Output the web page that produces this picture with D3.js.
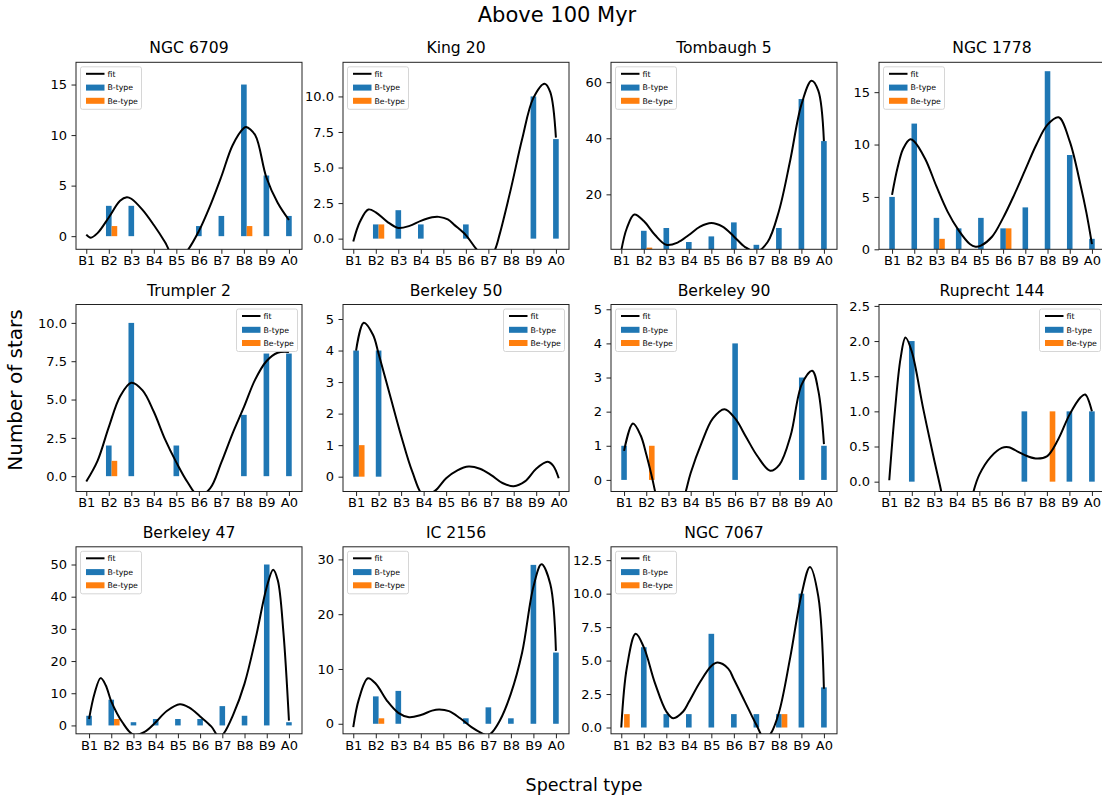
<!DOCTYPE html>
<html><head><meta charset="utf-8">
<script src="https://cdn.jsdelivr.net/npm/d3@7"></script>
<style>
body{margin:0;background:#fff}
text{font-family:"DejaVu Sans",sans-serif;fill:#000}
</style>
</head><body>
<svg id="chart" width="1102" height="801"></svg>
<script>
// ---------- data ----------
const spectralTypes = ["B1","B2","B3","B4","B5","B6","B7","B8","B9","A0"];
const clusterNames = ["NGC 6709","King 20","Tombaugh 5","NGC 1778","Trumpler 2","Berkeley 50",
  "Berkeley 90","Ruprecht 144","Berkeley 47","IC 2156","NGC 7067"];

const bTypeNGC6709   = [0,3,3,0,0,1,2,15,6,2];
const bTypeKing20    = [0,1,2,1,0,1,0,0,10,7];
const bTypeTombaugh5 = [0,7,8,3,5,10,2,8,54,39];
const bTypeNGC1778   = [5,12,3,2,3,2,4,17,9,1];
const bTypeTrumpler2 = [0,2,10,0,2,0,0,4,8,8];
const bTypeBerkeley50= [4,4,0,0,0,0,0,0,0,0];
const bTypeBerkeley90= [1,0,0,0,0,4,0,0,3,1];
const bTypeRuprecht144=[0,2,0,0,0,0,1,0,1,1];
const bTypeBerkeley47= [3,8,1,2,2,2,6,3,50,1];
const bTypeIC2156    = [0,5,6,0,0,1,3,1,29,13];
const bTypeNGC7067   = [0,6,1,1,7,1,1,1,10,3];

const beTypeNGC6709   = [0,1,0,0,0,0,0,1,0,0];
const beTypeKing20    = [0,1,0,0,0,0,0,0,0,0];
const beTypeTombaugh5 = [0,1,0,0,0,0,0,0,0,0];
const beTypeNGC1778   = [0,0,1,0,0,2,0,0,0,0];
const beTypeTrumpler2 = [0,1,0,0,0,0,0,0,0,0];
const beTypeBerkeley50= [1,0,0,0,0,0,0,0,0,0];
const beTypeBerkeley90= [0,1,0,0,0,0,0,0,0,0];
const beTypeRuprecht144=[0,0,0,0,0,0,0,1,0,0];
const beTypeBerkeley47= [0,2,0,0,0,0,0,0,0,0];
const beTypeIC2156    = [0,1,0,0,0,0,0,0,0,0];
const beTypeNGC7067   = [1,0,0,0,0,0,0,1,0,0];

// fit curves: [spectral index, stars]
const fitNGC6709 = [[0,0.15],[0.2,-0.15],[0.5,0.3],[1,1.85],[1.5,3.5],[1.8,3.85],[2,3.7],[2.5,2.6],[3,1.1],
  [3.5,-0.6],[4,-2.5],[4.5,-1.4],[5,0.5],[5.5,3],[6,5.9],[6.5,9],[7,10.7],[7.1,10.8],[7.5,10],[8,5.8],[8.5,3.3],[9,1.6]];
const fitKing20 = [[0,-0.2],[0.3,1.2],[0.67,2.05],[1,1.85],[1.5,1.2],[2,0.75],[2.5,0.9],[3,1.25],[3.5,1.5],[3.8,1.53],
  [4.2,1.35],[4.5,0.95],[5,0.25],[5.5,-0.8],[6,-1.5],[6.3,-0.75],[6.5,0.3],[7,3.5],[7.5,7],[8,9.9],[8.5,10.9],[8.75,10.3],[9,7.1]];
const fitTombaugh5 = [[0,0],[0.25,8],[0.58,12.8],[1,10.5],[1.5,5.5],[2,2],[2.5,2.8],[3,5.5],[3.5,8.5],[4,9.8],[4.5,8.5],
  [5,5],[5.5,1.2],[6,-0.5],[6.5,3],[7,14],[7.5,32],[8,52],[8.45,60.5],[8.75,57],[9,39]];
const fitNGC1778 = [[0,5.2],[0.25,7.8],[0.5,9.6],[0.82,10.5],[1,10.3],[1.5,8.6],[2,6],[2.5,3.6],[3,1.8],[3.5,0.5],[3.76,0.25],
  [4,0.35],[4.5,1.2],[5,3],[5.5,5.2],[6,7.6],[6.5,10],[7,11.9],[7.5,12.6],[8,10.3],[8.5,6],[8.75,3.5],[9,0.5]];
const fitTrumpler2 = [[0,-0.35],[0.5,1],[1,3.2],[1.5,5.2],[2,6.1],[2.5,5.6],[3,4.2],[3.5,2.4],[4,0.9],[4.5,-0.4],[5,-1.3],
  [5.5,-0.8],[6,0.9],[6.5,2.8],[7,4.5],[7.5,6.3],[8,7.5],[8.5,8.05],[9,8.1]];
const fitBerkeley50 = [[0,4],[0.34,4.88],[0.75,4.5],[1,3.9],[1.5,2.6],[2,1.3],[2.5,0.15],[3,-0.6],[3.5,-0.45],[4,-0.05],
  [4.5,0.2],[5,0.32],[5.5,0.25],[6,0.05],[6.5,-0.2],[7,-0.3],[7.5,-0.15],[8,0.25],[8.5,0.47],[8.75,0.35],[9,-0.05]];
const fitBerkeley90 = [[0,0.85],[0.4,1.65],[0.75,1.3],[1,0.75],[1.25,0.1],[1.5,-0.6],[2,-1.5],[2.5,-1],[2.78,-0.34],[3,0.2],
  [3.5,1.1],[4,1.8],[4.52,2.07],[5,1.8],[5.5,1.25],[6,0.7],[6.58,0.27],[7,0.45],[7.5,1.3],[8,2.8],[8.47,3.2],[8.75,2.6],[9,1.05]];
const fitRuprecht144 = [[0,0.02],[0.25,1],[0.5,1.75],[0.72,2.05],[1,1.85],[1.5,1.05],[2,0.3],[2.25,-0.05],[2.5,-0.4],[3,-0.8],
  [3.5,-0.5],[3.74,-0.14],[4,0.1],[4.5,0.35],[5,0.48],[5.3,0.49],[5.75,0.42],[6,0.38],[6.5,0.33],[7,0.36],[7.5,0.6],[8,0.95],
  [8.5,1.2],[8.7,1.24],[9,1]];
const fitBerkeley47 = [[0,2],[0.25,10],[0.52,14.7],[0.75,12.5],[1,7.5],[1.5,1],[2,-2.9],[2.5,-2],[3,1],[3.5,4.5],[4.09,6.6],
  [4.5,5.6],[5,2.8],[5.5,-0.3],[5.85,-3.5],[6.05,-2.6],[6.5,3.5],[7,13],[7.5,27],[8,43],[8.29,48.4],[8.5,45],[8.75,29],[9,1.5]];
const fitIC2156 = [[0,-0.6],[0.25,4.5],[0.65,8.3],[1,7.3],[1.5,4.2],[2,2],[2.48,1.2],[3,1.6],[3.5,2.4],[3.82,2.6],[4.25,2.3],
  [4.75,1],[5.25,-0.6],[5.76,-1.83],[5.93,-2.1],[6.1,-1.83],[6.5,0.5],[7,5.5],[7.5,13],[8,25],[8.36,29.1],[8.75,25.5],[9,13.3]];
const fitNGC7067 = [[0,0],[0.25,4.5],[0.64,7],[1,6],[1.5,3.3],[2,1.2],[2.3,0.7],[2.75,1.2],[3,1.9],[3.5,3.4],[4,4.6],[4.28,4.85],
  [4.75,4.4],[5,3.6],[5.5,1.9],[6,0.2],[6.35,-0.8],[6.63,-0.47],[7,1.1],[7.5,5.2],[8,9.9],[8.38,12],[8.75,9.8],[9,2.9]];

const yLimits = [[-1.3,17.2],[-0.75,12.4],[0.4,67.1],[0,17.85],[-1.0,11.2],[-0.47,5.46],
  [-0.34,5.14],[-0.14,2.52],[-2.6,55.5],[-1.83,32.3],[-0.47,13.5]];
const yTicks = [[0,5,10,15],[0,2.5,5,7.5,10],[20,40,60],[0,5,10,15],[0,2.5,5,7.5,10],[0,1,2,3,4,5],
  [0,1,2,3,4,5],[0,0.5,1,1.5,2,2.5],[0,10,20,30,40,50],[0,10,20,30],[0,2.5,5,7.5,10,12.5]];
const yTickDecimals = [0,1,0,0,1,0,0,1,0,0,1];
const legendSide = ["left","left","left","left","right","right","left","right","left","left","left"];
const legendLabels = ["fit","B-type","Be-type"];

const bTypeCounts = [bTypeNGC6709,bTypeKing20,bTypeTombaugh5,bTypeNGC1778,bTypeTrumpler2,bTypeBerkeley50,
  bTypeBerkeley90,bTypeRuprecht144,bTypeBerkeley47,bTypeIC2156,bTypeNGC7067];
const beTypeCounts = [beTypeNGC6709,beTypeKing20,beTypeTombaugh5,beTypeNGC1778,beTypeTrumpler2,beTypeBerkeley50,
  beTypeBerkeley90,beTypeRuprecht144,beTypeBerkeley47,beTypeIC2156,beTypeNGC7067];
const fitCurves = [fitNGC6709,fitKing20,fitTombaugh5,fitNGC1778,fitTrumpler2,fitBerkeley50,
  fitBerkeley90,fitRuprecht144,fitBerkeley47,fitIC2156,fitNGC7067];

// ---------- layout ----------
const colLeft = [76,343,611,879];
const rowTop = [62.3,304.5,546.8];
const W = 226, H = 187;
const blue = "#1f77b4", orange = "#ff7f0e";
const barW = 0.25;

const svg = d3.select("#chart");

svg.append("text").attr("x",557).attr("y",22).attr("text-anchor","middle")
  .style("font-size","21px").text("Above 100 Myr");
svg.append("text").attr("x",584).attr("y",791).attr("text-anchor","middle")
  .style("font-size","17.5px").text("Spectral type");
svg.append("text").attr("transform","translate(22,390) rotate(-90)").attr("text-anchor","middle")
  .style("font-size","20px").text("Number of stars");

clusterNames.forEach((name,i)=>{
  const col = i%4, row = Math.floor(i/4);
  const g = svg.append("g").attr("transform",`translate(${colLeft[col]},${rowTop[row]})`);
  const bv = bTypeCounts[i], ev = beTypeCounts[i];
  // matplotlib-style autoscale of x
  let lo = 0, hi = spectralTypes.length-1;
  bv.forEach((v,j)=>{ if(v>0){ lo=Math.min(lo,j-barW/2); hi=Math.max(hi,j+barW/2);} });
  ev.forEach((v,j)=>{ if(v>0){ lo=Math.min(lo,j+barW/2); hi=Math.max(hi,j+barW*1.5);} });
  const pad = 0.05*(hi-lo);
  const x = d3.scaleLinear().domain([lo-pad,hi+pad]).range([0,W]);
  const y = d3.scaleLinear().domain(yLimits[i]).range([H,0]);

  const cid = "clip"+i;
  g.append("clipPath").attr("id",cid).append("rect").attr("width",W).attr("height",H);
  const plot = g.append("g").attr("clip-path",`url(#${cid})`);

  plot.selectAll("rect.b").data(bv.map((v,j)=>({v,j})).filter(d=>d.v>0)).join("rect")
    .attr("class","b").attr("fill",blue)
    .attr("x",d=>x(d.j-barW/2)).attr("width",d=>x(d.j+barW/2)-x(d.j-barW/2))
    .attr("y",d=>y(d.v)).attr("height",d=>y(0)-y(d.v));
  plot.selectAll("rect.e").data(ev.map((v,j)=>({v,j})).filter(d=>d.v>0)).join("rect")
    .attr("class","e").attr("fill",orange)
    .attr("x",d=>x(d.j+barW/2)).attr("width",d=>x(d.j+barW*1.5)-x(d.j+barW/2))
    .attr("y",d=>y(d.v)).attr("height",d=>y(0)-y(d.v));

  const line = d3.line().x(d=>x(d[0])).y(d=>y(d[1])).curve(d3.curveCatmullRom.alpha(0.5));
  plot.append("path").datum(fitCurves[i]).attr("d",line)
    .attr("fill","none").attr("stroke","#000").attr("stroke-width",2);

  // axes
  const xa = g.append("g").attr("transform",`translate(0,${H})`)
    .call(d3.axisBottom(x).tickValues(d3.range(spectralTypes.length)).tickFormat(k=>spectralTypes[k])
      .tickSize(4.5).tickPadding(2));
  const fmt = d3.format(yTickDecimals[i] ? ".1f" : "d");
  const ya = g.append("g")
    .call(d3.axisLeft(y).tickValues(yTicks[i]).tickFormat(fmt).tickSize(4.5).tickPadding(4.5));
  [xa,ya].forEach(a=>{
    a.select(".domain").remove();
    a.selectAll("line").attr("stroke","#222").attr("stroke-width",1);
    a.selectAll("text").style("font-size","13px").style("font-family","DejaVu Sans").attr("fill","#000");
  });
  g.append("rect").attr("width",W).attr("height",H).attr("fill","none")
    .attr("stroke","#222").attr("stroke-width",1);

  g.append("text").attr("x",W/2).attr("y",-9).attr("text-anchor","middle")
    .style("font-size","15.6px").text(name);

  // legend
  const lw = 61, lh = 42.5;
  const lx = legendSide[i]==="left" ? 4.5 : W-4.5-lw;
  const lg = g.append("g").attr("transform",`translate(${lx},4.5)`);
  lg.append("rect").attr("width",lw).attr("height",lh).attr("rx",2)
    .attr("fill","#fff").attr("fill-opacity",0.8).attr("stroke","#cccccc").attr("stroke-width",0.8);
  const rowsY = [7,20.8,34];
  lg.append("line").attr("x1",5.5).attr("x2",24).attr("y1",rowsY[0]).attr("y2",rowsY[0])
    .attr("stroke","#000").attr("stroke-width",2);
  lg.append("rect").attr("x",5.5).attr("width",18.5).attr("y",rowsY[1]-3).attr("height",6).attr("fill",blue);
  lg.append("rect").attr("x",5.5).attr("width",18.5).attr("y",rowsY[2]-3).attr("height",6).attr("fill",orange);
  legendLabels.forEach((t,k)=>{
    lg.append("text").attr("x",27).attr("y",rowsY[k]).attr("dy","0.35em")
      .style("font-size","7.8px").text(t);
  });
});
</script>
</body></html>
